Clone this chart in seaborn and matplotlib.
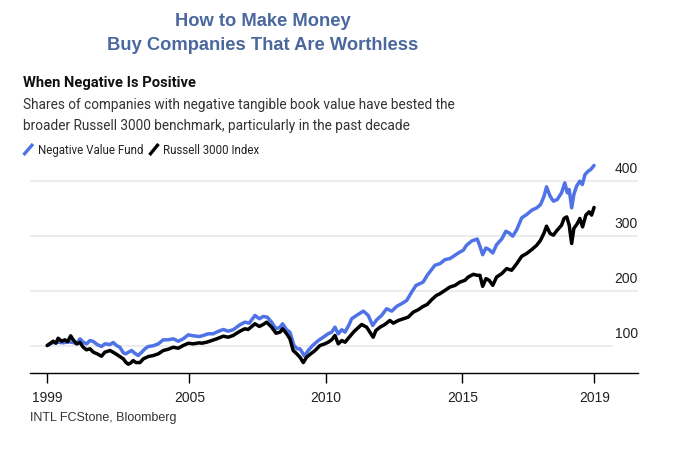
import matplotlib
matplotlib.use("Agg")
import matplotlib.pyplot as plt
from matplotlib.lines import Line2D
from matplotlib.transforms import ScaledTranslation
import numpy as np
import pandas as pd
import seaborn as sns

# ---------------- data ----------------
series_names = ["Negative Value Fund", "Russell 3000 Index"]

blue_years = [
    1999.79, 2000.01, 2000.19, 2000.38, 2000.56, 2000.74, 2000.87, 2000.99, 2001.11, 2001.23,
    2001.36, 2001.48, 2001.62, 2001.78, 2001.90, 2002.09, 2002.21, 2002.33, 2002.45, 2002.58,
    2002.67, 2002.76, 2002.88, 2003.00, 2003.12, 2003.25, 2003.37, 2003.49, 2003.67, 2003.86,
    2004.04, 2004.22, 2004.41, 2004.59, 2004.77, 2004.96, 2005.14, 2005.36, 2005.51, 2005.69,
    2005.87, 2006.05, 2006.24, 2006.42, 2006.60, 2006.85, 2007.03, 2007.19, 2007.40, 2007.56,
    2007.70, 2007.85, 2008.01, 2008.17, 2008.32, 2008.41, 2008.56, 2008.68, 2008.83, 2008.95,
    2009.05, 2009.21, 2009.35, 2009.51, 2009.72, 2009.90, 2010.08, 2010.21, 2010.33, 2010.45,
    2010.58, 2010.70, 2010.85, 2010.94, 2011.12, 2011.37, 2011.55, 2011.71, 2011.86, 2012.04,
    2012.22, 2012.41, 2012.59, 2012.77, 2012.96, 2013.14, 2013.30, 2013.44, 2013.56, 2013.71,
    2013.87, 2013.99, 2014.18, 2014.36, 2014.54, 2014.73, 2014.91, 2015.03, 2015.15, 2015.34,
    2015.54, 2015.64, 2015.74, 2015.86, 2015.98, 2016.11, 2016.25, 2016.44, 2016.59, 2016.71,
    2016.84, 2016.99, 2017.17, 2017.35, 2017.54, 2017.72, 2017.86, 2017.99, 2018.08, 2018.21,
    2018.33, 2018.47, 2018.63, 2018.75, 2018.84, 2018.91, 2019.00, 2019.08, 2019.18, 2019.30,
    2019.39, 2019.49, 2019.61, 2019.70, 2019.82,
]
blue_vals = [
    100, 105.5, 106, 104.9, 106.8, 105.5, 103.1, 112.2, 106, 103.1,
    109.1, 107.3, 101.8, 98.2, 103.1, 101.8, 105.5, 100, 96.9, 86.7,
    84.9, 87.8, 90.9, 85.9, 81.8, 87.8, 94.0, 98.2, 99.5, 103.1,
    110.4, 110.4, 112.2, 107.8, 112.2, 119.5, 117.7, 116.4, 118.3, 121.4,
    121.4, 125.6, 129.2, 126.1, 128.7, 137.8, 142.5, 140.7, 154.8, 148.7,
    152.9, 151.6, 142.5, 130.5, 133.4, 139.6, 128.7, 124.3, 100, 94.0,
    94.0, 81.0, 90.9, 100, 109.1, 115.1, 121.4, 124.3, 133.4, 121.4,
    128.7, 124.3, 138.3, 148.7, 154.8, 162.6, 154.8, 136.5, 146.9, 154.8,
    167.0, 162.6, 171.2, 176.1, 182.1, 197.3, 209.5, 212.6, 215.5, 227.8,
    238.2, 246.0, 249.1, 256.4, 258.2, 264.3, 270.3, 273.4, 282.5, 290.3,
    293.8, 280.6, 265.3, 277.5, 274.4, 268.4, 283.5, 293.9, 308.0, 304.9,
    298.9, 310.9, 332.3, 338.3, 346.3, 350.5, 356.5, 371.9, 388.8, 371.9,
    362.7, 365.6, 377.9, 396.1, 377.9, 383.9, 350.5, 374.8, 390.1, 399.2,
    393.0, 411.3, 417.5, 420.4, 427.7,
]

black_years = [
    1999.79, 2000.01, 2000.11, 2000.19, 2000.32, 2000.44, 2000.54, 2000.65, 2000.74, 2000.87,
    2000.99, 2001.11, 2001.23, 2001.36, 2001.48, 2001.62, 2001.78, 2001.90, 2002.09, 2002.27,
    2002.45, 2002.58, 2002.67, 2002.76, 2002.85, 2002.94, 2003.04, 2003.19, 2003.31, 2003.49,
    2003.67, 2003.86, 2004.04, 2004.22, 2004.41, 2004.59, 2004.77, 2004.96, 2005.14, 2005.36,
    2005.45, 2005.63, 2005.81, 2006.00, 2006.24, 2006.42, 2006.60, 2006.85, 2007.03, 2007.15,
    2007.40, 2007.56, 2007.70, 2007.83, 2008.01, 2008.17, 2008.32, 2008.41, 2008.56, 2008.68,
    2008.80, 2008.93, 2009.05, 2009.17, 2009.29, 2009.41, 2009.60, 2009.78, 2009.96, 2010.08,
    2010.21, 2010.33, 2010.45, 2010.58, 2010.70, 2010.85, 2011.03, 2011.31, 2011.49, 2011.61,
    2011.73, 2011.83, 2011.98, 2012.16, 2012.34, 2012.47, 2012.65, 2012.83, 2013.01, 2013.20,
    2013.38, 2013.56, 2013.71, 2013.87, 2014.05, 2014.18, 2014.36, 2014.54, 2014.73, 2014.91,
    2015.09, 2015.21, 2015.40, 2015.54, 2015.64, 2015.74, 2015.86, 2015.98, 2016.11, 2016.25,
    2016.44, 2016.62, 2016.80, 2016.99, 2017.17, 2017.35, 2017.54, 2017.72, 2017.86, 2017.99,
    2018.08, 2018.21, 2018.33, 2018.47, 2018.63, 2018.72, 2018.82, 2018.91, 2019.00, 2019.08,
    2019.21, 2019.30, 2019.40, 2019.52, 2019.64, 2019.73, 2019.82,
]
black_vals = [
    100, 107.8, 104.2, 113.3, 107.8, 110.4, 106.8, 117.7, 110.4, 103.1,
    105.5, 96.9, 92.2, 94.0, 87.8, 84.9, 80.5, 87.8, 90.9, 85.9,
    79.9, 75.7, 69.5, 66.0, 68.4, 72.6, 69.0, 69.0, 75.7, 79.9,
    81.7, 84.9, 90.9, 93.2, 96.9, 95.1, 100, 104.2, 103.1, 104.9,
    104.2, 106.0, 109.1, 112.2, 117.0, 115.1, 118.3, 126.1, 130.5, 129.2,
    139.6, 134.7, 138.3, 142.5, 133.4, 122.4, 124.3, 130.5, 121.4, 112.2,
    90.9, 84.9, 78.6, 69.0, 78.6, 83.6, 90.9, 100, 103.1, 106.0,
    110.4, 118.3, 103.1, 109.1, 106.0, 115.1, 125.6, 138.3, 133.4, 124.3,
    115.1, 127.4, 133.4, 138.3, 145.6, 140.7, 145.6, 148.7, 151.6, 160.8,
    165.2, 171.2, 174.8, 183.4, 191.3, 194.4, 200.4, 206.4, 209.5, 215.5,
    218.6, 224.6, 229.6, 227.8, 227.8, 207.7, 221.7, 218.6, 209.5, 224.6,
    230.9, 240.0, 236.9, 249.1, 262.4, 267.4, 274.7, 282.5, 291.6, 305.0,
    317.2, 303.9, 300.8, 309.9, 319.0, 331.2, 334.1, 319.0, 285.6, 313.0,
    322.1, 331.2, 315.9, 337.3, 343.3, 337.3, 351.3,
]

x_ticks = [1999.80, 2005, 2010, 2015, 2019.83]
x_tick_labels = ["1999", "2005", "2010", "2015", "2019"]
y_ticks = [100, 200, 300, 400]
y_tick_labels = ["100", "200", "300", "400"]

title_lines = ["How to Make Money", "Buy Companies That Are Worthless"]
headline = "When Negative Is Positive"
subtitle_lines = [
    "Shares of companies with negative tangible book value have bested the",
    "broader Russell 3000 benchmark, particularly in the past decade",
]
source = "INTL FCStone, Bloomberg"

# ---------------- style ----------------
BLUE = "#4f73e6"
BLACK = "#000000"
TITLE_C = "#4a679e"
palette = {series_names[0]: BLUE, series_names[1]: BLACK}

sns.set_theme(style="white")
plt.rcParams["font.family"] = ["Liberation Sans", "DejaVu Sans"]
NARROW = ["Roboto", "Liberation Sans", "DejaVu Sans"]

W, H = 678, 458
fig = plt.figure(figsize=(W / 100, H / 100), dpi=100)
fig.patch.set_facecolor("white")


def fx(px):
    return px / W


def fy(py):
    return 1 - py / H


ax = fig.add_axes([fx(30), fy(373), fx(638) - fx(30), fy(158.7) - fy(373)])
ax.set_facecolor("white")

df = pd.concat([
    pd.DataFrame({"year": blue_years, "value": blue_vals, "series": series_names[0]}),
    pd.DataFrame({"year": black_years, "value": black_vals, "series": series_names[1]}),
], ignore_index=True)

sns.lineplot(data=df, x="year", y="value", hue="series", hue_order=series_names,
             palette=palette, legend=False, lw=2.5, ax=ax, zorder=3)

ax.set_xlim(1999.16, 2021.43)
ax.set_ylim(50, 440)

for yv in y_ticks:
    ax.axhline(yv, xmin=0, xmax=(0.957 if yv == y_ticks[0] else 1.0),
               color="#ececec", lw=1.4, zorder=0)

for s in ["top", "left", "right"]:
    ax.spines[s].set_visible(False)
ax.spines["bottom"].set_color("black")
ax.spines["bottom"].set_linewidth(1.0)

ax.set_xticks(x_ticks)
ax.set_xticklabels(x_tick_labels)
ax.tick_params(axis="x", length=7, width=1, color="black", pad=6,
               labelsize=10, labelcolor="#222222", bottom=True)

ax.yaxis.tick_right()
ax.set_yticks(y_ticks)
ax.set_yticklabels(y_tick_labels)
ax.tick_params(axis="y", length=0, pad=0, labelsize=10, labelcolor="#222222")
offset = ScaledTranslation(0, 0.135, fig.dpi_scale_trans)
for lab in ax.get_yticklabels():
    lab.set_horizontalalignment("right")
    lab.set_transform(lab.get_transform() + offset)

ax.set_xlabel("")
ax.set_ylabel("")
ax.grid(False)

# ---------------- texts ----------------
fig.text(fx(263), fy(26.5), title_lines[0], ha="center", va="baseline",
         fontsize=13.25, fontweight="bold", color=TITLE_C)
fig.text(fx(263), fy(50), title_lines[1], ha="center", va="baseline",
         fontsize=13.25, fontweight="bold", color=TITLE_C)

fig.text(fx(23), fy(87.5), headline, ha="left", va="baseline", family=NARROW,
         fontsize=10.6, fontweight="bold", color="#111111")
fig.text(fx(23), fy(108.5), subtitle_lines[0], ha="left", va="baseline",
         family=NARROW, fontsize=9.85, color="#333333")
fig.text(fx(23), fy(130), subtitle_lines[1], ha="left", va="baseline",
         family=NARROW, fontsize=9.85, color="#333333")

# legend
fig.add_artist(Line2D([fx(23.5), fx(33)], [fy(155), fy(144)], transform=fig.transFigure,
                      color=BLUE, lw=2.4, solid_capstyle="butt"))
fig.text(fx(38), fy(154), series_names[0], ha="left", va="baseline", family=NARROW,
         fontsize=8.3, color="#222222")
fig.add_artist(Line2D([fx(149.5), fx(158.5)], [fy(155), fy(144)], transform=fig.transFigure,
                      color=BLACK, lw=2.4, solid_capstyle="butt"))
fig.text(fx(163), fy(154), series_names[1], ha="left", va="baseline", family=NARROW,
         fontsize=8.3, color="#222222")

fig.text(fx(30), fy(421), source, ha="left", va="baseline", fontsize=9, color="#333333")

fig.savefig("out.png", dpi=100, facecolor="white")
